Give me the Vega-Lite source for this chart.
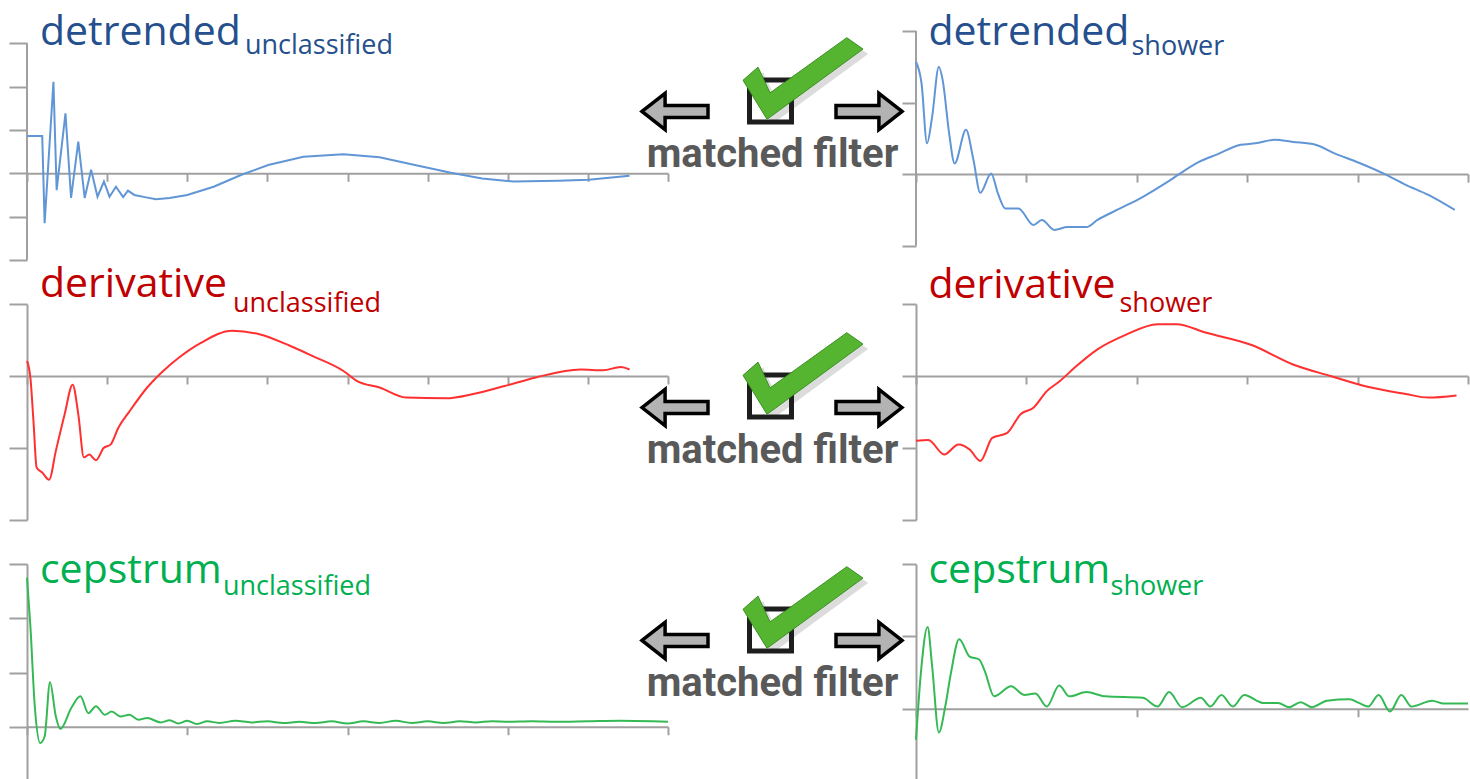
{
"$schema": "https://vega.github.io/schema/vega-lite/v6.json",
"padding": {"left": 8, "top": 12, "right": 0, "bottom": 0},
"background": "white",
"bounds": "flush",
"align": "each",
"columns": 3,
"spacing": {"row": 44, "column": 0},
"config": {"view": {"stroke": null}, "axis": {"domainColor": "#a0a0a0", "tickColor": "#a0a0a0", "domainWidth": 2, "tickWidth": 2, "labels": false, "grid": false}},
"concat": [
 {"width": 641, "height": 229,
  "encoding": {
   "x": {"field": "u", "type": "quantitative", "scale": {"domain": [0, 8], "nice": false, "zero": false}, "axis": {"values": [0,1,2,3,4,5,6,7,8], "offset": -86.7, "tickSize": 8, "title": null}},
   "y": {"field": "v", "type": "quantitative", "scale": {"domain": [-2, 3.28], "nice": false, "zero": false}, "axis": {"values": [-2,-1,0,1,2,3], "tickSize": 18, "domain": false, "title": null}}},
  "layer": [
   {"data": {"values": [{"u": 0, "v": -2, "v2": 3}]}, "mark": {"type": "rule", "color": "#a0a0a0", "strokeWidth": 2}, "encoding": {"y2": {"field": "v2"}}},
   {"data": {"values": [{"u":0,"v":0.86},{"u":0.19,"v":0.86},{"u":0.22,"v":-1.15},{"u":0.33,"v":2.11},{"u":0.37,"v":-0.39},{"u":0.48,"v":1.38},{"u":0.55,"v":-0.57},{"u":0.64,"v":0.73},{"u":0.72,"v":-0.57},{"u":0.80,"v":0.08},{"u":0.88,"v":-0.54},{"u":0.96,"v":-0.19},{"u":1.03,"v":-0.54},{"u":1.11,"v":-0.31},{"u":1.20,"v":-0.55},{"u":1.26,"v":-0.4},{"u":1.34,"v":-0.5},{"u":1.47,"v":-0.55},{"u":1.61,"v":-0.6},{"u":1.78,"v":-0.57},{"u":2.00,"v":-0.5},{"u":2.33,"v":-0.31},{"u":2.67,"v":-0.04},{"u":3.01,"v":0.19},{"u":3.45,"v":0.38},{"u":3.95,"v":0.44},{"u":4.40,"v":0.37},{"u":4.84,"v":0.19},{"u":5.29,"v":0.01},{"u":5.68,"v":-0.12},{"u":6.07,"v":-0.19},{"u":6.63,"v":-0.17},{"u":7.01,"v":-0.15},{"u":7.52,"v":-0.06}]},
    "mark": {"type": "line", "color": "#6196d6", "strokeWidth": 2}},
   {"data": {"values": [{"u": 0.162, "v": 2.957, "label": "detrended"}]}, "mark": {"type": "text", "align": "left", "baseline": "alphabetic", "font": "Open Sans", "fontSize": 41, "color": "#254f8d"}, "encoding": {"text": {"field": "label"}}},
   {"data": {"values": [{"u": 2.72, "v": 2.75, "label": "unclassified"}]}, "mark": {"type": "text", "align": "left", "baseline": "alphabetic", "font": "Open Sans", "fontSize": 27, "color": "#254f8d"}, "encoding": {"text": {"field": "label"}}}
  ]},
 {"width": 248, "height": 229,
  "encoding": {
   "x": {"field": "u", "type": "quantitative", "scale": {"domain": [0, 100], "nice": false, "zero": false}, "axis": null},
   "y": {"field": "v", "type": "quantitative", "scale": {"domain": [0, 100], "nice": false, "zero": false, "reverse": true}, "axis": null}},
  "layer": [
   {"data": {"values": [{"u": 56.5, "v": 22.9}]}, "mark": {"type": "point", "shape": "M-1,0.03L-0.75,-0.19L-0.55,0.24L0.73,-0.68L1,-0.49L-0.6,0.68Z", "size": 14400, "filled": true, "color": "#c4c4c4", "opacity": 0.6, "strokeWidth": 0}},
   {"data": {"values": [{"u": 41.33, "v": 30.57}]}, "mark": {"type": "point", "shape": "square", "size": 1764, "filled": false, "color": "#1e1e1e", "strokeWidth": 5, "opacity": 1}},
   {"data": {"values": [{"u": 54.44, "v": 20.74}]}, "mark": {"type": "point", "shape": "M-1,0.03L-0.75,-0.19L-0.55,0.24L0.73,-0.68L1,-0.49L-0.6,0.68Z", "size": 14400, "filled": true, "fill": "#56b530", "stroke": "#3a8f22", "strokeWidth": 1, "opacity": 1}},
   {"data": {"values": [{"u": 2.82, "v": 35.15}]}, "mark": {"type": "point", "shape": "M-1,0L-0.3,-0.55L-0.3,-0.18L1,-0.18L1,0.18L-0.3,0.18L-0.3,0.55Z", "size": 4356, "filled": true, "fill": "#b3b3b3", "stroke": "#000000", "strokeWidth": 3.5, "opacity": 1}},
   {"data": {"values": [{"u": 81.05, "v": 35.15}]}, "mark": {"type": "point", "shape": "M1,0L0.3,-0.55L0.3,-0.18L-1,-0.18L-1,0.18L0.3,0.18L0.3,0.55Z", "size": 4356, "filled": true, "fill": "#b3b3b3", "stroke": "#000000", "strokeWidth": 3.5, "opacity": 1}},
   {"data": {"values": [{"u": 42.14, "v": 59.39, "label": "matched filter"}]}, "mark": {"type": "text", "align": "center", "baseline": "alphabetic", "font": "Roboto", "fontWeight": "bold", "fontSize": 40, "color": "#595959"}, "encoding": {"text": {"field": "label"}}}
  ]},
 {"width": 552, "height": 229,
  "encoding": {
   "x": {"field": "u", "type": "quantitative", "scale": {"domain": [0, 5], "nice": false, "zero": false}, "axis": {"values": [0,1,2,3,4,5], "offset": -85.9, "tickSize": 8, "title": null}},
   "y": {"field": "v", "type": "quantitative", "scale": {"domain": [-1.2, 2], "nice": false, "zero": false}, "axis": {"values": [-1,0,1,2], "tickSize": 14, "domain": false, "title": null}}},
  "layer": [
   {"data": {"values": [{"u": 0, "v": -1, "v2": 2}]}, "mark": {"type": "rule", "color": "#a0a0a0", "strokeWidth": 2}, "encoding": {"y2": {"field": "v2"}}},
   {"data": {"values": [{"u":0,"v":1.57},{"u":0.05,"v":1.27},{"u":0.10,"v":0.43},{"u":0.146,"v":0.80},{"u":0.207,"v":1.50},{"u":0.242,"v":1.31},{"u":0.30,"v":0.57},{"u":0.35,"v":0.15},{"u":0.453,"v":0.62},{"u":0.52,"v":0.20},{"u":0.582,"v":-0.26},{"u":0.681,"v":0.01},{"u":0.742,"v":-0.27},{"u":0.81,"v":-0.48},{"u":0.928,"v":-0.48},{"u":1.064,"v":-0.71},{"u":1.14,"v":-0.64},{"u":1.253,"v":-0.78},{"u":1.372,"v":-0.74},{"u":1.543,"v":-0.74},{"u":1.644,"v":-0.64},{"u":1.849,"v":-0.48},{"u":2.052,"v":-0.32},{"u":2.257,"v":-0.13},{"u":2.394,"v":0.01},{"u":2.563,"v":0.17},{"u":2.734,"v":0.28},{"u":2.94,"v":0.41},{"u":3.075,"v":0.43},{"u":3.245,"v":0.48},{"u":3.415,"v":0.45},{"u":3.619,"v":0.41},{"u":3.791,"v":0.29},{"u":3.995,"v":0.17},{"u":4.233,"v":0.01},{"u":4.437,"v":-0.15},{"u":4.641,"v":-0.29},{"u":4.88,"v":-0.50}]},
    "mark": {"type": "line", "color": "#6196d6", "strokeWidth": 2, "interpolate": "monotone"}},
   {"data": {"values": [{"u": 0.113, "v": 1.804, "label": "detrended"}]}, "mark": {"type": "text", "align": "left", "baseline": "alphabetic", "font": "Open Sans", "fontSize": 41, "color": "#254f8d"}, "encoding": {"text": {"field": "label"}}},
   {"data": {"values": [{"u": 1.952, "v": 1.665, "label": "shower"}]}, "mark": {"type": "text", "align": "left", "baseline": "alphabetic", "font": "Open Sans", "fontSize": 27, "color": "#254f8d"}, "encoding": {"text": {"field": "label"}}}
  ]},
 {"width": 641, "height": 216,
  "encoding": {
   "x": {"field": "u", "type": "quantitative", "scale": {"domain": [0, 8], "nice": false, "zero": false}, "axis": {"values": [0,1,2,3,4,5,6,7,8], "offset": -144, "tickSize": 8, "title": null}},
   "y": {"field": "v", "type": "quantitative", "scale": {"domain": [-2, 1], "nice": false, "zero": false}, "axis": {"values": [-2,-1,0,1], "tickSize": 18, "title": null}}},
  "layer": [
   {"data": {"values": [{"u":0,"v":0.21},{"u":0.042,"v":-0.02},{"u":0.081,"v":-0.63},{"u":0.12,"v":-1.27},{"u":0.19,"v":-1.34},{"u":0.276,"v":-1.44},{"u":0.36,"v":-1.04},{"u":0.47,"v":-0.53},{"u":0.57,"v":-0.12},{"u":0.64,"v":-0.53},{"u":0.71,"v":-1.13},{"u":0.777,"v":-1.09},{"u":0.86,"v":-1.17},{"u":0.956,"v":-1.0},{"u":1.045,"v":-0.95},{"u":1.14,"v":-0.72},{"u":1.28,"v":-0.49},{"u":1.5,"v":-0.16},{"u":1.70,"v":0.07},{"u":1.89,"v":0.25},{"u":2.17,"v":0.46},{"u":2.56,"v":0.63},{"u":2.90,"v":0.58},{"u":3.28,"v":0.42},{"u":3.56,"v":0.28},{"u":3.95,"v":0.07},{"u":4.12,"v":-0.07},{"u":4.40,"v":-0.16},{"u":4.73,"v":-0.30},{"u":5.23,"v":-0.31},{"u":5.57,"v":-0.25},{"u":5.96,"v":-0.14},{"u":6.35,"v":-0.02},{"u":6.91,"v":0.09},{"u":7.19,"v":0.08},{"u":7.41,"v":0.125},{"u":7.52,"v":0.09}]},
    "mark": {"type": "line", "color": "#ff3030", "strokeWidth": 2, "interpolate": "monotone"}},
   {"data": {"values": [{"u": 0.162, "v": 1.097, "label": "derivative"}]}, "mark": {"type": "text", "align": "left", "baseline": "alphabetic", "font": "Open Sans", "fontSize": 41, "color": "#c00000"}, "encoding": {"text": {"field": "label"}}},
   {"data": {"values": [{"u": 2.571, "v": 0.893, "label": "unclassified"}]}, "mark": {"type": "text", "align": "left", "baseline": "alphabetic", "font": "Open Sans", "fontSize": 27, "color": "#c00000"}, "encoding": {"text": {"field": "label"}}}
  ]},
 {"width": 248, "height": 216,
  "encoding": {
   "x": {"field": "u", "type": "quantitative", "scale": {"domain": [0, 100], "nice": false, "zero": false}, "axis": null},
   "y": {"field": "v", "type": "quantitative", "scale": {"domain": [0, 100], "nice": false, "zero": false, "reverse": true}, "axis": null}},
  "layer": [
   {"data": {"values": [{"u": 56.5, "v": 34.5}]}, "mark": {"type": "point", "shape": "M-1,0.03L-0.75,-0.19L-0.55,0.24L0.73,-0.68L1,-0.49L-0.6,0.68Z", "size": 14400, "filled": true, "color": "#c4c4c4", "opacity": 0.6, "strokeWidth": 0}},
   {"data": {"values": [{"u": 41.33, "v": 42.59}]}, "mark": {"type": "point", "shape": "square", "size": 1764, "filled": false, "color": "#1e1e1e", "strokeWidth": 5, "opacity": 1}},
   {"data": {"values": [{"u": 54.44, "v": 32.18}]}, "mark": {"type": "point", "shape": "M-1,0.03L-0.75,-0.19L-0.55,0.24L0.73,-0.68L1,-0.49L-0.6,0.68Z", "size": 14400, "filled": true, "fill": "#56b530", "stroke": "#3a8f22", "strokeWidth": 1, "opacity": 1}},
   {"data": {"values": [{"u": 2.82, "v": 47.92}]}, "mark": {"type": "point", "shape": "M-1,0L-0.3,-0.55L-0.3,-0.18L1,-0.18L1,0.18L-0.3,0.18L-0.3,0.55Z", "size": 4356, "filled": true, "fill": "#b3b3b3", "stroke": "#000000", "strokeWidth": 3.5, "opacity": 1}},
   {"data": {"values": [{"u": 81.05, "v": 47.92}]}, "mark": {"type": "point", "shape": "M1,0L0.3,-0.55L0.3,-0.18L-1,-0.18L-1,0.18L0.3,0.18L0.3,0.55Z", "size": 4356, "filled": true, "fill": "#b3b3b3", "stroke": "#000000", "strokeWidth": 3.5, "opacity": 1}},
   {"data": {"values": [{"u": 42.14, "v": 73.61, "label": "matched filter"}]}, "mark": {"type": "text", "align": "center", "baseline": "alphabetic", "font": "Roboto", "fontWeight": "bold", "fontSize": 40, "color": "#595959"}, "encoding": {"text": {"field": "label"}}}
  ]},
 {"width": 552, "height": 216,
  "encoding": {
   "x": {"field": "u", "type": "quantitative", "scale": {"domain": [0, 5], "nice": false, "zero": false}, "axis": {"values": [0,1,2,3,4,5], "offset": -144, "tickSize": 8, "title": null}},
   "y": {"field": "v", "type": "quantitative", "scale": {"domain": [-2, 1], "nice": false, "zero": false}, "axis": {"values": [-2,-1,0,1], "tickSize": 14, "title": null}}},
  "layer": [
   {"data": {"values": [{"u":0,"v":-0.90},{"u":0.112,"v":-0.89},{"u":0.255,"v":-1.09},{"u":0.385,"v":-0.95},{"u":0.486,"v":-1.02},{"u":0.582,"v":-1.18},{"u":0.691,"v":-0.86},{"u":0.827,"v":-0.79},{"u":0.947,"v":-0.53},{"u":1.064,"v":-0.44},{"u":1.185,"v":-0.21},{"u":1.304,"v":-0.07},{"u":1.44,"v":0.12},{"u":1.644,"v":0.37},{"u":1.883,"v":0.56},{"u":2.19,"v":0.72},{"u":2.36,"v":0.72},{"u":2.63,"v":0.60},{"u":3.04,"v":0.43},{"u":3.415,"v":0.16},{"u":3.754,"v":0.0},{"u":4.09,"v":-0.15},{"u":4.437,"v":-0.25},{"u":4.641,"v":-0.30},{"u":4.896,"v":-0.27}]},
    "mark": {"type": "line", "color": "#ff3030", "strokeWidth": 2, "interpolate": "monotone"}},
   {"data": {"values": [{"u": 0.113, "v": 1.083, "label": "derivative"}]}, "mark": {"type": "text", "align": "left", "baseline": "alphabetic", "font": "Open Sans", "fontSize": 41, "color": "#c00000"}, "encoding": {"text": {"field": "label"}}},
   {"data": {"values": [{"u": 1.843, "v": 0.893, "label": "shower"}]}, "mark": {"type": "text", "align": "left", "baseline": "alphabetic", "font": "Open Sans", "fontSize": 27, "color": "#c00000"}, "encoding": {"text": {"field": "label"}}}
  ]},
 {"width": 641, "height": 217,
  "encoding": {
   "x": {"field": "u", "type": "quantitative", "scale": {"domain": [0, 8], "nice": false, "zero": false}, "axis": {"values": [0,2,4,6,8], "offset": -54.25, "tickSize": 8, "title": null}},
   "y": {"field": "v", "type": "quantitative", "scale": {"domain": [-1, 3], "nice": false, "zero": false}, "axis": {"values": [-1,0,1,2,3], "tickSize": 18, "title": null}}},
  "layer": [
   {"data": {"values": [{"u":0,"v":2.75},{"u":0.042,"v":1.86},{"u":0.097,"v":0.38},{"u":0.165,"v":-0.30},{"u":0.22,"v":-0.18},{"u":0.287,"v":0.82},{"u":0.36,"v":0.19},{"u":0.416,"v":-0.04},{"u":0.554,"v":0.35},{"u":0.666,"v":0.56},{"u":0.766,"v":0.25},{"u":0.861,"v":0.38},{"u":0.972,"v":0.22},{"u":1.056,"v":0.28},{"u":1.167,"v":0.19},{"u":1.279,"v":0.22},{"u":1.39,"v":0.13},{"u":1.5,"v":0.16},{"u":1.67,"v":0.08},{"u":1.78,"v":0.12},{"u":1.89,"v":0.06},{"u":2.0,"v":0.11},{"u":2.12,"v":0.05},{"u":2.25,"v":0.1},{"u":2.4,"v":0.07},{"u":2.6,"v":0.11},{"u":2.8,"v":0.08},{"u":3.0,"v":0.1},{"u":3.2,"v":0.07},{"u":3.4,"v":0.09},{"u":3.6,"v":0.07},{"u":3.8,"v":0.1},{"u":4.0,"v":0.06},{"u":4.2,"v":0.1},{"u":4.4,"v":0.07},{"u":4.6,"v":0.11},{"u":4.8,"v":0.07},{"u":5.0,"v":0.1},{"u":5.2,"v":0.07},{"u":5.4,"v":0.1},{"u":5.6,"v":0.08},{"u":5.8,"v":0.1},{"u":6.0,"v":0.09},{"u":6.3,"v":0.1},{"u":6.6,"v":0.09},{"u":7.0,"v":0.1},{"u":7.4,"v":0.11},{"u":7.8,"v":0.1},{"u":8.0,"v":0.09}]},
    "mark": {"type": "line", "color": "#35b955", "strokeWidth": 2, "interpolate": "monotone"}},
   {"data": {"values": [{"u": 0.162, "v": 2.65, "label": "cepstrum"}]}, "mark": {"type": "text", "align": "left", "baseline": "alphabetic", "font": "Open Sans", "fontSize": 41, "color": "#00b050"}, "encoding": {"text": {"field": "label"}}},
   {"data": {"values": [{"u": 2.446, "v": 2.43, "label": "unclassified"}]}, "mark": {"type": "text", "align": "left", "baseline": "alphabetic", "font": "Open Sans", "fontSize": 27, "color": "#00b050"}, "encoding": {"text": {"field": "label"}}}
  ]},
 {"width": 248, "height": 217,
  "encoding": {
   "x": {"field": "u", "type": "quantitative", "scale": {"domain": [0, 100], "nice": false, "zero": false}, "axis": null},
   "y": {"field": "v", "type": "quantitative", "scale": {"domain": [0, 100], "nice": false, "zero": false, "reverse": true}, "axis": null}},
  "layer": [
   {"data": {"values": [{"u": 56.5, "v": 22.35}]}, "mark": {"type": "point", "shape": "M-1,0.03L-0.75,-0.19L-0.55,0.24L0.73,-0.68L1,-0.49L-0.6,0.68Z", "size": 14400, "filled": true, "color": "#c4c4c4", "opacity": 0.6, "strokeWidth": 0}},
   {"data": {"values": [{"u": 41.33, "v": 30.41}]}, "mark": {"type": "point", "shape": "square", "size": 1764, "filled": false, "color": "#1e1e1e", "strokeWidth": 5, "opacity": 1}},
   {"data": {"values": [{"u": 54.44, "v": 20.05}]}, "mark": {"type": "point", "shape": "M-1,0.03L-0.75,-0.19L-0.55,0.24L0.73,-0.68L1,-0.49L-0.6,0.68Z", "size": 14400, "filled": true, "fill": "#56b530", "stroke": "#3a8f22", "strokeWidth": 1, "opacity": 1}},
   {"data": {"values": [{"u": 2.82, "v": 35.25}]}, "mark": {"type": "point", "shape": "M-1,0L-0.3,-0.55L-0.3,-0.18L1,-0.18L1,0.18L-0.3,0.18L-0.3,0.55Z", "size": 4356, "filled": true, "fill": "#b3b3b3", "stroke": "#000000", "strokeWidth": 3.5, "opacity": 1}},
   {"data": {"values": [{"u": 81.05, "v": 35.25}]}, "mark": {"type": "point", "shape": "M1,0L0.3,-0.55L0.3,-0.18L-1,-0.18L-1,0.18L0.3,0.18L0.3,0.55Z", "size": 4356, "filled": true, "fill": "#b3b3b3", "stroke": "#000000", "strokeWidth": 3.5, "opacity": 1}},
   {"data": {"values": [{"u": 42.14, "v": 60.83, "label": "matched filter"}]}, "mark": {"type": "text", "align": "center", "baseline": "alphabetic", "font": "Roboto", "fontWeight": "bold", "fontSize": 40, "color": "#595959"}, "encoding": {"text": {"field": "label"}}}
  ]},
 {"width": 552, "height": 217,
  "encoding": {
   "x": {"field": "u", "type": "quantitative", "scale": {"domain": [0, 5], "nice": false, "zero": false}, "axis": {"values": [0,2,4], "offset": -72.33, "tickSize": 8, "title": null}},
   "y": {"field": "v", "type": "quantitative", "scale": {"domain": [-1, 2], "nice": false, "zero": false}, "axis": {"values": [-1,0,1,2], "tickSize": 14, "title": null}}},
  "layer": [
   {"data": {"values": [{"u":0,"v":-0.43},{"u":0.044,"v":0.49},{"u":0.105,"v":1.13},{"u":0.146,"v":0.59},{"u":0.207,"v":-0.33},{"u":0.265,"v":0.03},{"u":0.316,"v":0.49},{"u":0.391,"v":0.96},{"u":0.486,"v":0.72},{"u":0.572,"v":0.68},{"u":0.623,"v":0.52},{"u":0.708,"v":0.17},{"u":0.861,"v":0.31},{"u":0.98,"v":0.19},{"u":1.082,"v":0.21},{"u":1.185,"v":0.03},{"u":1.297,"v":0.32},{"u":1.389,"v":0.17},{"u":1.543,"v":0.23},{"u":1.713,"v":0.17},{"u":2.053,"v":0.15},{"u":2.189,"v":0.03},{"u":2.292,"v":0.23},{"u":2.41,"v":0.02},{"u":2.58,"v":0.15},{"u":2.666,"v":0.03},{"u":2.767,"v":0.19},{"u":2.87,"v":0.03},{"u":2.973,"v":0.19},{"u":3.143,"v":0.08},{"u":3.279,"v":0.08},{"u":3.381,"v":0.02},{"u":3.484,"v":0.09},{"u":3.585,"v":0.02},{"u":3.722,"v":0.11},{"u":3.927,"v":0.13},{"u":4.011,"v":0.08},{"u":4.096,"v":0.03},{"u":4.191,"v":0.19},{"u":4.293,"v":-0.04},{"u":4.396,"v":0.19},{"u":4.488,"v":0.03},{"u":4.675,"v":0.11},{"u":4.78,"v":0.07},{"u":5.0,"v":0.07}]},
    "mark": {"type": "line", "color": "#35b955", "strokeWidth": 2, "interpolate": "monotone"}},
   {"data": {"values": [{"u": 0.113, "v": 1.737, "label": "cepstrum"}]}, "mark": {"type": "text", "align": "left", "baseline": "alphabetic", "font": "Open Sans", "fontSize": 41, "color": "#00b050"}, "encoding": {"text": {"field": "label"}}},
   {"data": {"values": [{"u": 1.762, "v": 1.571, "label": "shower"}]}, "mark": {"type": "text", "align": "left", "baseline": "alphabetic", "font": "Open Sans", "fontSize": 27, "color": "#00b050"}, "encoding": {"text": {"field": "label"}}}
  ]}
]
}
